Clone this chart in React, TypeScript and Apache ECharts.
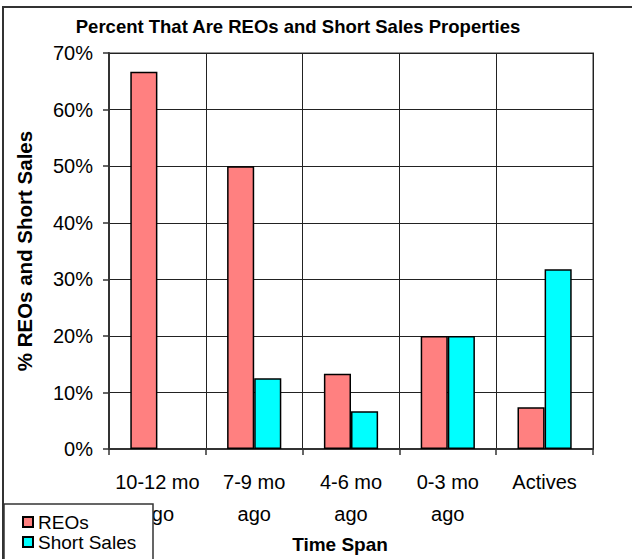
import React, { useEffect, useRef } from "react";
import * as echarts from "echarts";

const categories = ["10-12 mo\nago", "7-9 mo\nago", "4-6 mo\nago", "0-3 mo\nago", "Actives"];
const reos = [0.667, 0.5, 0.133, 0.2, 0.074];
const shortSales = [0, 0.125, 0.067, 0.2, 0.318];
const seriesNames = ["REOs", "Short Sales"];
const titleText = "Percent That Are REOs and Short Sales Properties";

export default function App() {
  const ref = useRef<HTMLDivElement>(null);
  useEffect(() => {
    if (!ref.current) return;
    const chart = echarts.init(ref.current, null, { renderer: "svg" });
    const font = "Arial, 'Liberation Sans', sans-serif";
    const toBar = (v: number) => (v === 0 ? { value: v, itemStyle: { borderWidth: 0 } } : v);
    chart.setOption({
      animation: false,
      backgroundColor: "#fff",
      textStyle: { fontFamily: font },
      title: {
        text: titleText,
        left: 293,
        textAlign: "center",
        top: 11,
        textStyle: { fontSize: 18.5, fontWeight: "bold", color: "#000", lineHeight: 21, fontFamily: font },
      },
      grid: {
        left: 109,
        top: 53,
        right: 39,
        bottom: 109,
        show: true,
        borderColor: "#999",
        borderWidth: 2,
        backgroundColor: "#fff",
      },
      legend: {
        orient: "vertical",
        left: 22,
        top: 512,
        padding: 0,
        itemGap: 0,
        itemWidth: 10,
        itemHeight: 10,
        icon: "rect",
        z: 200,
        data: seriesNames,
        textStyle: { fontSize: 19, color: "#000", lineHeight: 20, fontFamily: font },
      },
      xAxis: {
        type: "category",
        data: categories,
        name: "Time Span",
        nameLocation: "middle",
        nameGap: 82,
        nameTextStyle: { fontSize: 19, fontWeight: "bold", color: "#000", padding: [0, 22, 0, 0], fontFamily: font },
        axisLine: { lineStyle: { color: "#333", width: 2 } },
        axisTick: { show: true, length: 6, lineStyle: { color: "#333", width: 1.5 } },
        axisLabel: { interval: 0, fontSize: 20, color: "#000", lineHeight: 32, margin: 17, fontFamily: font },
        splitLine: { show: true, lineStyle: { color: "#222", width: 1 } },
      },
      yAxis: {
        type: "value",
        min: 0,
        max: 0.7,
        interval: 0.1,
        name: "% REOs and Short Sales",
        nameLocation: "middle",
        nameRotate: 90,
        nameGap: 74,
        nameTextStyle: { fontSize: 20.5, fontWeight: "bold", color: "#000", fontFamily: font },
        axisLine: { show: true, lineStyle: { color: "#333", width: 2 } },
        axisTick: { show: true, length: 6, lineStyle: { color: "#333", width: 1.5 } },
        axisLabel: {
          fontSize: 20,
          color: "#000",
          margin: 16,
          fontFamily: font,
          formatter: (v: number) => Math.round(v * 100) + "%",
        },
        splitLine: { show: true, lineStyle: { color: "#222", width: 1 } },
      },
      series: [
        {
          name: seriesNames[0],
          type: "bar",
          data: reos.map(toBar),
          barGap: "0%",
          barCategoryGap: "44%",
          itemStyle: { color: "#FF8080", borderColor: "#000", borderWidth: 1.5 },
        },
        {
          name: seriesNames[1],
          type: "bar",
          data: shortSales.map(toBar),
          barGap: "0%",
          barCategoryGap: "44%",
          itemStyle: { color: "#00FFFF", borderColor: "#000", borderWidth: 1.5 },
        },
      ],
      graphic: [
        {
          type: "rect",
          z: 150,
          shape: { x: 4, y: 504, width: 149, height: 80 },
          style: { fill: "#fff", stroke: "#333", lineWidth: 1.5 },
        },
        {
          type: "rect",
          z: -10,
          silent: true,
          shape: { x: 3, y: 7, width: 700, height: 700 },
          style: { fill: "none", stroke: "#333", lineWidth: 2 },
        },
      ],
    });
    return () => chart.dispose();
  }, []);
  return (
    <div
      ref={ref}
      style={{ position: "fixed", left: 0, top: 0, width: 632, height: 559 }}
    />
  );
}
